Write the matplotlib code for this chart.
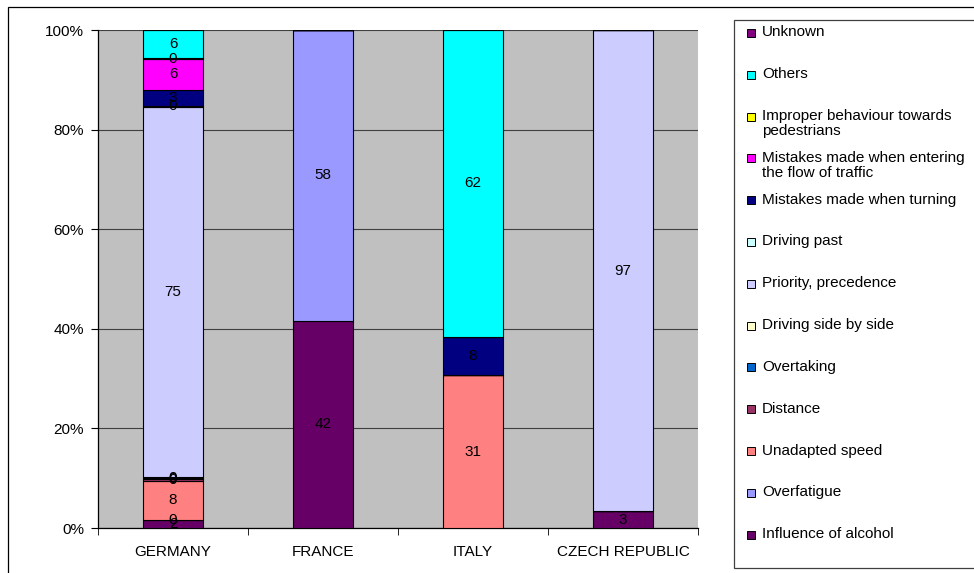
import matplotlib.pyplot as plt
from matplotlib.patches import Rectangle
import numpy as np

plt.rcParams['font.family'] = ['Liberation Sans', 'DejaVu Sans']

# Countries and causes (bottom to top of the stack)
countries = ["GERMANY", "FRANCE", "ITALY", "CZECH REPUBLIC"]
causes = ["Influence of alcohol", "Overfatigue", "Unadapted speed", "Distance",
          "Overtaking", "Driving side by side", "Priority, precedence",
          "Driving past", "Mistakes made when turning",
          "Mistakes made when entering\nthe flow of traffic",
          "Improper behaviour towards\npedestrians", "Others", "Unknown"]
colors = ["#660066", "#9999FF", "#FF8080", "#993366", "#0066CC", "#FFFFCC",
          "#CCCCFF", "#CCFFFF", "#000080", "#FF00FF", "#FFFF00", "#00FFFF",
          "#800080"]

nan = np.nan
# values per cause, one entry per country (nan = not reported)
alcohol      = [1.6, 41.6, nan, 3.4]
overfatigue  = [0.05, 58.4, nan, nan]
speed        = [7.8, nan, 30.7, nan]
distance     = [0.4, nan, nan, nan]
overtaking   = [0.2, nan, nan, nan]
side_by_side = [0.2, nan, nan, nan]
priority     = [74.6, nan, nan, 96.6]
driving_past = [0.2, nan, nan, nan]
turning      = [3.2, nan, 7.7, nan]
entering     = [6.2, nan, nan, nan]
improper     = [0.1, nan, nan, nan]
others       = [5.7, nan, 61.6, nan]
unknown      = [nan, nan, nan, nan]

data = np.array([alcohol, overfatigue, speed, distance, overtaking, side_by_side,
                 priority, driving_past, turning, entering, improper, others, unknown])
filled = np.nan_to_num(data)
totals = filled.sum(axis=0)
pct = filled / totals * 100

W, H = 974, 573
fig = plt.figure(figsize=(W / 100, H / 100), dpi=100)
ax = fig.add_axes([98 / W, 45 / H, 600 / W, 498 / H])
ax.set_facecolor("#C0C0C0")

fs = 11
x = np.arange(len(countries))
bottom = np.zeros(len(countries))
for i in range(len(causes)):
    ax.bar(x, pct[i], 0.4, bottom=bottom, color=colors[i], edgecolor="black",
           linewidth=0.8, zorder=3)
    for j in range(len(countries)):
        if not np.isnan(data[i, j]):
            ax.text(x[j], bottom[j] + pct[i, j] / 2, "%d" % round(data[i, j]),
                    ha="center", va="center", fontsize=fs, zorder=4)
    bottom += pct[i]

ax.set_xlim(-0.5, 3.5)
ax.set_ylim(0, 100)
ax.set_yticks(np.arange(0, 101, 20))
ax.set_yticklabels(["%d%%" % v for v in range(0, 101, 20)], fontsize=fs)
ax.yaxis.grid(True, color="#404040", linewidth=0.8, zorder=1)
ax.set_xticks(x)
ax.set_xticklabels(countries, fontsize=fs)
ax.tick_params(axis="x", length=0, pad=12)
ax.set_xticks(np.arange(-0.5, 4, 1), minor=True)
ax.tick_params(axis="x", which="minor", length=5, color="black")
ax.tick_params(axis="y", length=5, pad=5)
for s in ["top", "right"]:
    ax.spines[s].set_visible(False)
for s in ["left", "bottom"]:
    ax.spines[s].set_linewidth(0.9)

# outer chart border
fig.add_artist(Rectangle((8 / W, -0.1), 1.2, 1 - 7 / H + 0.1, transform=fig.transFigure,
                         fill=False, edgecolor="black", linewidth=0.9))

# legend box drawn by hand (Excel style: equal spacing per entry)
fig.add_artist(Rectangle((734 / W, 1 - 568 / H), 1.0, (568 - 20) / H,
                         transform=fig.transFigure, facecolor="white",
                         edgecolor="#404040", linewidth=0.9))
top_y, step = 33, 41.8
for k, i in enumerate(range(len(causes) - 1, -1, -1)):
    yc = top_y + k * step
    fig.add_artist(Rectangle((747 / W, 1 - (yc + 4) / H), 8 / W, 8 / H,
                             transform=fig.transFigure, facecolor=colors[i],
                             edgecolor="black", linewidth=0.7))
    fig.text(762 / W, 1 - (yc - 7.5) / H, causes[i], ha="left", va="top",
             fontsize=fs, linespacing=1.1)

fig.savefig("out.png", dpi=100)
